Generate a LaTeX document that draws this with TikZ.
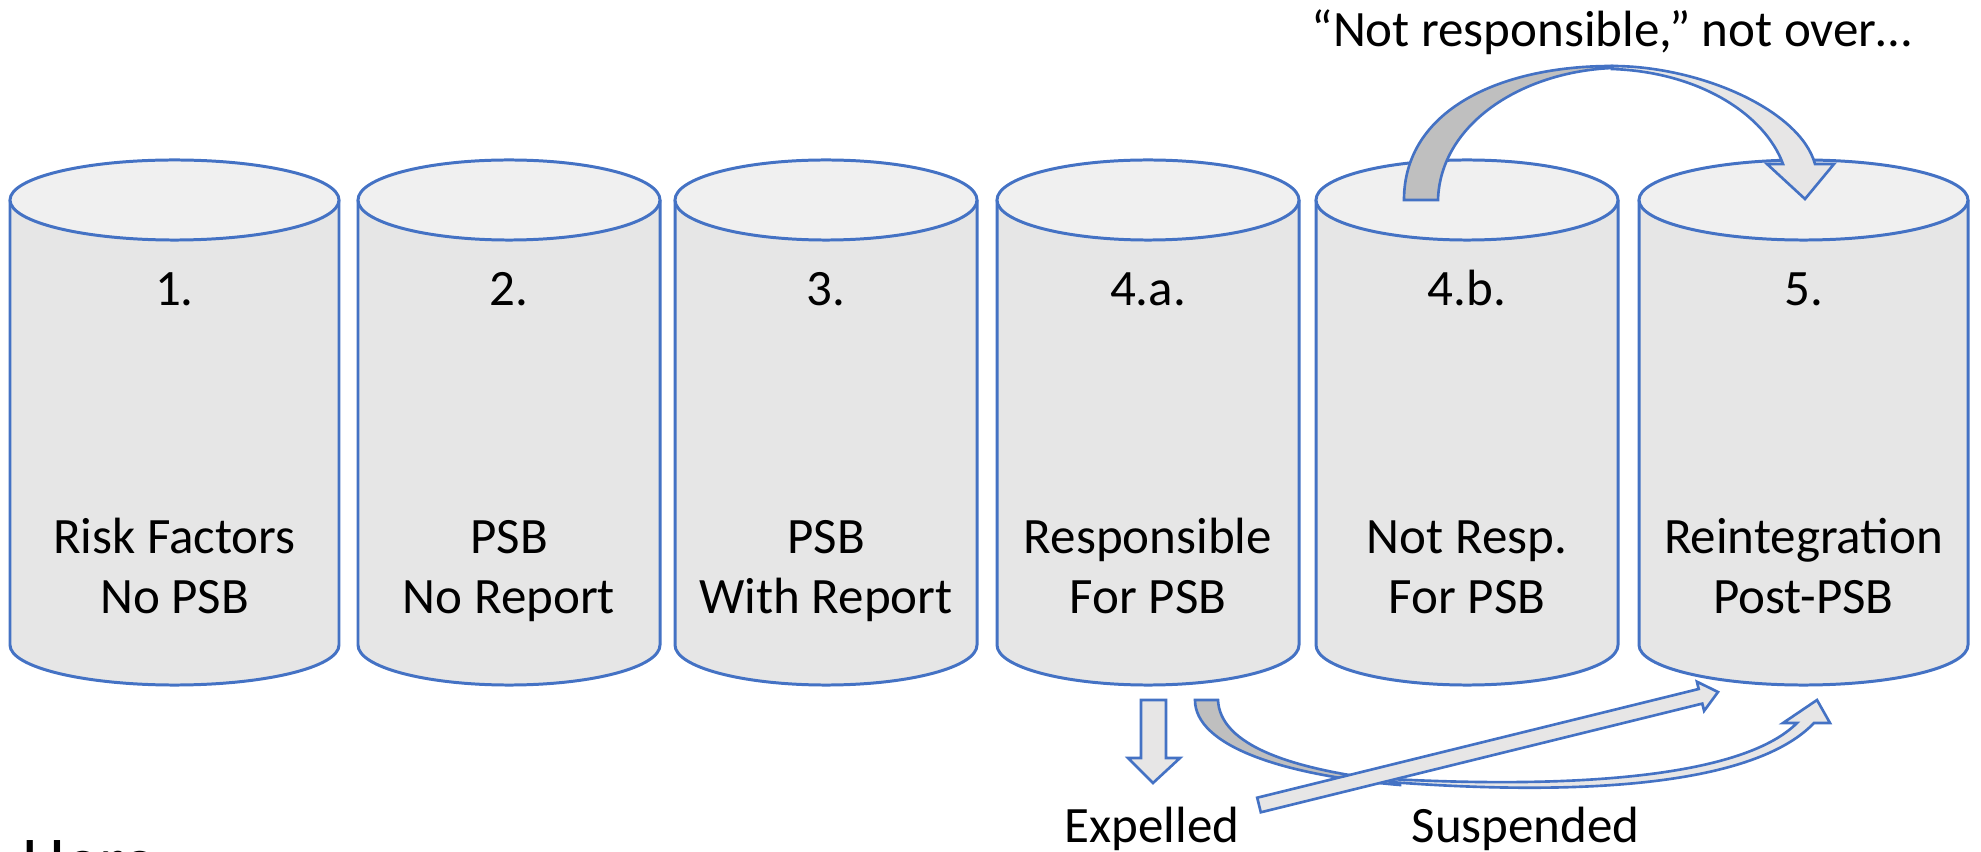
\documentclass[tikz,border=0pt]{standalone}
\usepackage{fontspec}
\setmainfont{Carlito}
\definecolor{office}{HTML}{4472C4}
\definecolor{cylbody}{HTML}{E6E6E6}
\definecolor{cyltop}{HTML}{F0F0F0}
\definecolor{arrowlight}{HTML}{E7E6E6}
\definecolor{arrowdark}{HTML}{BFBFBF}

\tikzset{
  drumbody/.style={fill=cylbody, draw=office, line width=0.85pt},
  drumtop/.style={fill=cyltop, draw=office, line width=0.85pt},
  blockfront/.style={fill=arrowlight, draw=office, line width=0.75pt, line join=miter},
  blockback/.style={fill=arrowdark, draw=office, line width=0.75pt, line join=miter},
  txt/.style={font=\fontsize{14.5}{17.07}\selectfont, inner sep=0pt, text=black},
  bigtxt/.style={font=\fontsize{19.5}{23}\selectfont, inner sep=0pt, text=black},
}

% #1 name, #2 centre x, #3 half width (px), #4 number, #5 two-line label
\newcommand{\drum}[5]{%
  \filldraw[drumbody] (#2-#3,200) -- (#2-#3,645)
     arc[start angle=180, end angle=360, x radius=#3*0.01cm, y radius=0.4cm]
     -- (#2+#3,200);
  \filldraw[drumtop] (#2,200) ellipse[x radius=#3*0.01cm, y radius=0.4cm];
  \node[txt, anchor=base] (#1-num) at (#2,306) {#4};
  \node[txt, anchor=base, align=center] (#1-lab) at (#2,614) {#5};
}

\begin{document}
\begin{tikzpicture}[x=0.01cm, y=-0.01cm]
  \useasboundingbox (0,0) rectangle (1981,852);
  \clip (0,0) rectangle (1981,852);

  % the six stages
  \drum{s1}{174.5}{164.5}{1.}{Risk Factors\\No PSB}
  \drum{s2}{509}{151}{2.}{PSB\\No Report}
  \drum{s3}{826}{151}{3.}{PSB\\With Report}
  \drum{s4a}{1148}{151}{4.a.}{Responsible\\For PSB}
  \drum{s4b}{1467}{151}{4.b.}{Not Resp.\\For PSB}
  \drum{s5}{1803.5}{164.5}{5.}{Reintegration\\Post-PSB}

  % curved arrow over the top, 4.b. to 5.
  \filldraw[blockback] (1404,200) -- (1438,200)
     .. controls (1440,125) and (1520,72) .. (1612,68)
     -- (1612,66)
     .. controls (1500,66) and (1404,110) .. (1404,200) -- cycle;
  \filldraw[blockfront] (1612,66)
     .. controls (1700,66) and (1800,110) .. (1815,164)
     -- (1834,164) -- (1805,199) -- (1767,164) -- (1783,164)
     .. controls (1765,115) and (1700,72) .. (1612,69) -- cycle;

  % down arrow under 4.a.
  \filldraw[blockfront] (1141,700) -- (1166,700) -- (1166,758) -- (1180,758)
     -- (1153,783) -- (1128,758) -- (1141,758) -- cycle;

  % curved arrow under the drums, 4.a. to 5.
  \filldraw[blockback] (1195,700) -- (1218,700)
     .. controls (1220,745) and (1290,770) .. (1400,782)
     -- (1400,785)
     .. controls (1280,775) and (1195,745) .. (1195,700) -- cycle;
  \filldraw[blockfront] (1390,782)
     .. controls (1560,795) and (1750,790) .. (1814,723)
     -- (1830,723) -- (1817,700) -- (1783,723) -- (1797,723)
     .. controls (1740,780) and (1560,788) .. (1390,779) -- cycle;

  % straight arrow from below 4.a. up to 5.
  \filldraw[blockfront] (1257.2,797.7) -- (1698.7,689.0) -- (1696.9,681.7)
     -- (1718,692) -- (1704.1,710.9) -- (1702.3,703.6) -- (1260.8,812.3) -- cycle;

  % captions
  \node[txt, anchor=base west] (notover) at (1311,47) {“Not responsible,” not over…};
  \node[txt, anchor=base west] (expelled) at (1064,843) {Expelled};
  \node[txt, anchor=base west] (suspended) at (1411,843) {Suspended};
  \node[bigtxt, anchor=base west] (here) at (22,884) {Here};
\end{tikzpicture}
\end{document}
